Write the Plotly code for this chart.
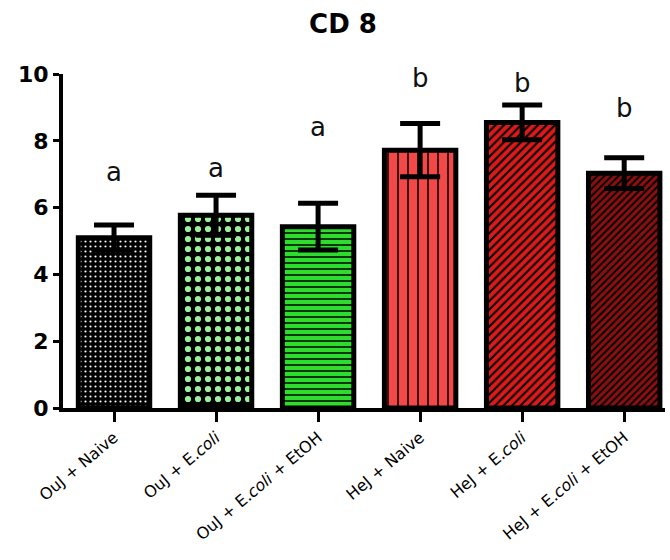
import plotly.graph_objects as go

# Group labels and CD8 measurements (mean ± SEM)
groups = [
    "OuJ + Naive",
    "OuJ + E.<i>coli</i>",
    "OuJ + E.<i>coli</i> + EtOH",
    "HeJ + Naive",
    "HeJ + E.<i>coli</i>",
    "HeJ + E.<i>coli</i> + EtOH",
]
means = [5.1, 5.77, 5.43, 7.72, 8.55, 7.03]
sems = [0.38, 0.6, 0.7, 0.8, 0.52, 0.46]

# Significance letters and their heights on the value axis
letters = ["a", "a", "a", "b", "b", "b"]
letter_y = [7.07, 7.2, 8.4, 9.88, 9.73, 8.98]

# Per-bar fill styles
bar_colors = ["#000000", "#000000", "#2EDC2E", "#F24848", "#DC1A1A", "#8E0F0F"]
pattern_shapes = [".", ".", "-", "|", "/", "/"]
pattern_fg = ["#FFFFFF", "#9CF29C", "#000000", "#000000", "#000000", "#000000"]
pattern_size = [5, 10, 6, 10, 6, 5]
pattern_solid = [0.15, 0.3, 0.25, 0.15, 0.35, 0.4]

x = list(range(len(groups)))

fig = go.Figure()
for i in x:
    fig.add_trace(
        go.Bar(
            x=[i],
            y=[means[i]],
            width=0.7,
            marker=dict(
                color=pattern_fg[i],
                line=dict(color="black", width=5),
                pattern=dict(
                    shape=pattern_shapes[i],
                    fgcolor=pattern_fg[i],
                    bgcolor=bar_colors[i],
                    fgopacity=1,
                    size=pattern_size[i],
                    solidity=pattern_solid[i],
                    fillmode="replace",
                ),
            ),
            error_y=dict(
                type="data",
                array=[sems[i]],
                visible=True,
                color="black",
                thickness=5,
                width=20,
            ),
            showlegend=False,
        )
    )

for xi, yi, t in zip(x, letter_y, letters):
    fig.add_annotation(
        x=xi,
        y=yi,
        text=t,
        showarrow=False,
        font=dict(family="DejaVu Sans", size=26, color="#111111"),
        xanchor="center",
        yanchor="middle",
    )

fig.update_layout(
    width=670,
    height=560,
    margin=dict(l=63, r=5, t=74, b=152),
    paper_bgcolor="white",
    plot_bgcolor="white",
    barmode="overlay",
    title=dict(
        text="<b>CD 8</b>",
        x=343 / 670,
        xanchor="center",
        y=1 - 24 / 560,
        yanchor="middle",
        font=dict(family="DejaVu Sans", size=26, color="black"),
    ),
)

fig.update_xaxes(
    range=[-0.5, 5.4],
    tickmode="array",
    tickvals=x,
    ticktext=groups,
    tickangle=-40,
    tickfont=dict(family="DejaVu Sans", size=16, color="black"),
    showline=True,
    linecolor="black",
    linewidth=4,
    ticks="outside",
    ticklen=10,
    tickwidth=3,
    tickcolor="black",
    showgrid=False,
    zeroline=False,
)

fig.update_yaxes(
    range=[0, 10],
    tickmode="array",
    tickvals=[0, 2, 4, 6, 8, 10],
    ticktext=["<b>0</b>", "<b>2</b>", "<b>4</b>", "<b>6</b>", "<b>8</b>", "<b>10</b>"],
    tickfont=dict(family="DejaVu Sans", size=22, color="black"),
    showline=True,
    linecolor="black",
    linewidth=4,
    ticks="outside",
    ticklen=6,
    tickwidth=3,
    tickcolor="black",
    showgrid=False,
    zeroline=False,
)

fig.write_html("out.html")
